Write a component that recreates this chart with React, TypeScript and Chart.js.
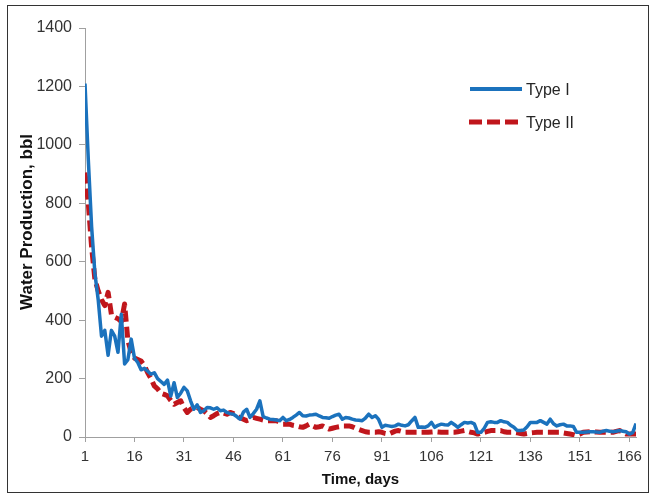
import React, { useEffect, useRef } from "react";
import { Chart, registerables } from "chart.js";

Chart.register(...registerables);

const days: number[] = Array.from({ length: 168 }, (_, i) => i + 1);
const xTickValues = [1, 16, 31, 46, 61, 76, 91, 106, 121, 136, 151, 166];
const yTickValues = [0, 200, 400, 600, 800, 1000, 1200, 1400];
const xTitle = "Time, days";
const yTitle = "Water Production, bbl";

const typeI = [
  1210, 950, 720, 560, 470, 345, 365, 280, 365, 345,
  290, 420, 250, 265, 335, 270, 255, 230, 235, 225,
  215, 220, 200, 190, 180, 195, 140, 186, 135, 150,
  170, 158, 124, 95, 110, 84, 90, 101, 100, 95,
  100, 90, 92, 84, 80, 78, 70, 61, 85, 95,
  67, 80, 95, 124, 70, 65, 61, 60, 58, 56,
  67, 56, 60, 67, 75, 84, 73, 72, 75, 76,
  78, 72, 67, 66, 64, 70, 75, 78, 61, 67,
  65, 61, 58, 57, 56, 65, 78, 67, 73, 60,
  33, 40, 38, 36, 38, 44, 40, 38, 42, 55,
  67, 33, 34, 33, 38, 50, 33, 40, 44, 42,
  41, 50, 42, 33, 42, 50, 48, 50, 45, 16,
  16, 30, 50, 52, 50, 50, 56, 52, 50, 40,
  33, 22, 22, 24, 35, 50, 50, 50, 56, 50,
  44, 61, 45, 38, 42, 44, 38, 38, 36, 16,
  16, 16, 17, 18, 18, 17, 16, 20, 22, 20,
  18, 20, 22, 20, 18, 10, 15, 46,
];

const typeII = [
  905, 800, 650, 540, 500, 470, 450, 495, 420, 410,
  405, 395, 455, 330, 290, 270, 265, 260, 245, 220,
  200, 175, 165, 150, 146, 141, 125, 112, 118, 124,
  100, 84, 95, 100, 101, 95, 90, 80, 67, 73,
  80, 84, 82, 78, 84, 80, 73, 65, 61, 56,
  60, 67, 64, 61, 58, 56, 56, 56, 56, 50,
  44, 44, 44, 40, 38, 35, 33, 38, 44, 38,
  33, 35, 38, 32, 27, 30, 33, 35, 38, 38,
  38, 35, 30, 26, 22, 18, 16, 16, 16, 18,
  16, 12, 10, 15, 20, 22, 19, 16, 16, 16,
  16, 16, 16, 16, 16, 17, 18, 17, 16, 16,
  16, 16, 16, 18, 20, 22, 19, 16, 14, 10,
  14, 16, 19, 22, 22, 22, 22, 18, 16, 16,
  16, 14, 12, 10, 12, 14, 15, 16, 16, 16,
  16, 16, 16, 16, 16, 14, 12, 10, 8, 5,
  10, 16, 17, 18, 18, 17, 16, 16, 16, 16,
  16, 19, 22, 16, 10, 10, 10, 10,
];

const seriesLabels = ["Type I", "Type II"];
const BLUE = "#1b72bd";
const RED = "#c0161c";
const FONT = "'Liberation Sans', Arial, sans-serif";

const legendPlugin = {
  id: "customLegend",
  afterDraw(chart: any) {
    const ctx = chart.ctx;
    const ds = chart.data.datasets;
    const rows = [
      { lineY: 89, textY: 91, x0: 470, x1: 522, dash: [], width: 4 },
      { lineY: 122, textY: 124, x0: 469, x1: 522, dash: [13, 5], width: 5 },
    ];
    ctx.save();
    rows.forEach((r, i) => {
      const d = ds[i];
      ctx.beginPath();
      ctx.setLineDash(r.dash);
      ctx.lineWidth = r.width;
      ctx.strokeStyle = d.borderColor;
      ctx.lineCap = "butt";
      ctx.moveTo(r.x0, r.lineY);
      ctx.lineTo(r.x1, r.lineY);
      ctx.stroke();
      ctx.setLineDash([]);
      ctx.fillStyle = "#262626";
      ctx.font = `16px ${FONT}`;
      ctx.textBaseline = "middle";
      ctx.textAlign = "left";
      ctx.fillText(d.label, 526, r.textY);
    });
    // y-axis title
    ctx.translate(27, 222);
    ctx.rotate(-Math.PI / 2);
    ctx.fillStyle = "#111";
    ctx.font = `bold 17px ${FONT}`;
    ctx.textAlign = "center";
    ctx.textBaseline = "middle";
    ctx.fillText(yTitle, 0, 0);
    ctx.restore();
  },
};

export default function App() {
  const ref = useRef<HTMLCanvasElement | null>(null);

  useEffect(() => {
    if (!ref.current) return;
    const chart = new Chart(ref.current, {
      type: "line",
      data: {
        datasets: [
          {
            label: seriesLabels[0],
            data: days.map((d, i) => ({ x: d, y: typeI[i] })),
            borderColor: BLUE,
            backgroundColor: BLUE,
            borderWidth: 3.5,
            pointRadius: 0,
            tension: 0,
            borderJoinStyle: "round",
          },
          {
            label: seriesLabels[1],
            data: days.map((d, i) => ({ x: d, y: typeII[i] })),
            borderColor: RED,
            backgroundColor: RED,
            borderWidth: 5,
            borderDash: [11, 5],
            pointRadius: 0,
            tension: 0,
            borderJoinStyle: "round",
          },
        ],
      },
      options: {
        responsive: false,
        maintainAspectRatio: false,
        animation: false,
        layout: { padding: { left: 17, right: 14, top: 28, bottom: 7 } },
        plugins: {
          legend: { display: false },
          tooltip: { enabled: false },
        },
        scales: {
          x: {
            type: "linear",
            min: 1,
            max: 168,
            afterBuildTicks: (scale: any) => {
              scale.ticks = xTickValues.map((v) => ({ value: v }));
            },
            afterFit: (scale: any) => {
              scale.height = 52;
            },
            ticks: {
              autoSkip: false,
              maxRotation: 0,
              padding: 6,
              color: "#333",
              font: { family: FONT, size: 15 },
              callback: (v: any) => String(v),
            },
            grid: {
              display: true,
              drawOnChartArea: false,
              drawTicks: true,
              tickLength: 5,
              color: "#a0a0a0",
            },
            border: { display: true, color: "#a0a0a0", width: 1 },
            title: {
              display: true,
              text: xTitle,
              color: "#111",
              padding: { top: 0, bottom: 0 },
              font: { family: FONT, size: 15, weight: "bold" },
            },
          },
          y: {
            type: "linear",
            min: 0,
            max: 1400,
            afterBuildTicks: (scale: any) => {
              scale.ticks = yTickValues.map((v) => ({ value: v }));
            },
            afterFit: (scale: any) => {
              scale.width = 68;
            },
            ticks: {
              padding: 7,
              color: "#333",
              font: { family: FONT, size: 16 },
              callback: (v: any) => String(v),
            },
            grid: {
              display: true,
              drawOnChartArea: false,
              drawTicks: true,
              tickLength: 6,
              color: "#a0a0a0",
            },
            border: { display: true, color: "#a0a0a0", width: 1 },
            title: { display: false },
          },
        },
      },
      plugins: [legendPlugin],
    } as any);
    return () => chart.destroy();
  }, []);

  return (
    <div style={{ position: "fixed", left: 0, top: 0, width: 650, height: 496, background: "#fff" }}>
      <canvas ref={ref} width={650} height={496} style={{ width: 650, height: 496, display: "block" }} />
      <div
        style={{
          position: "absolute",
          left: 7,
          top: 5,
          width: 640,
          height: 486,
          border: "1px solid #333",
          pointerEvents: "none",
        }}
      />
    </div>
  );
}
